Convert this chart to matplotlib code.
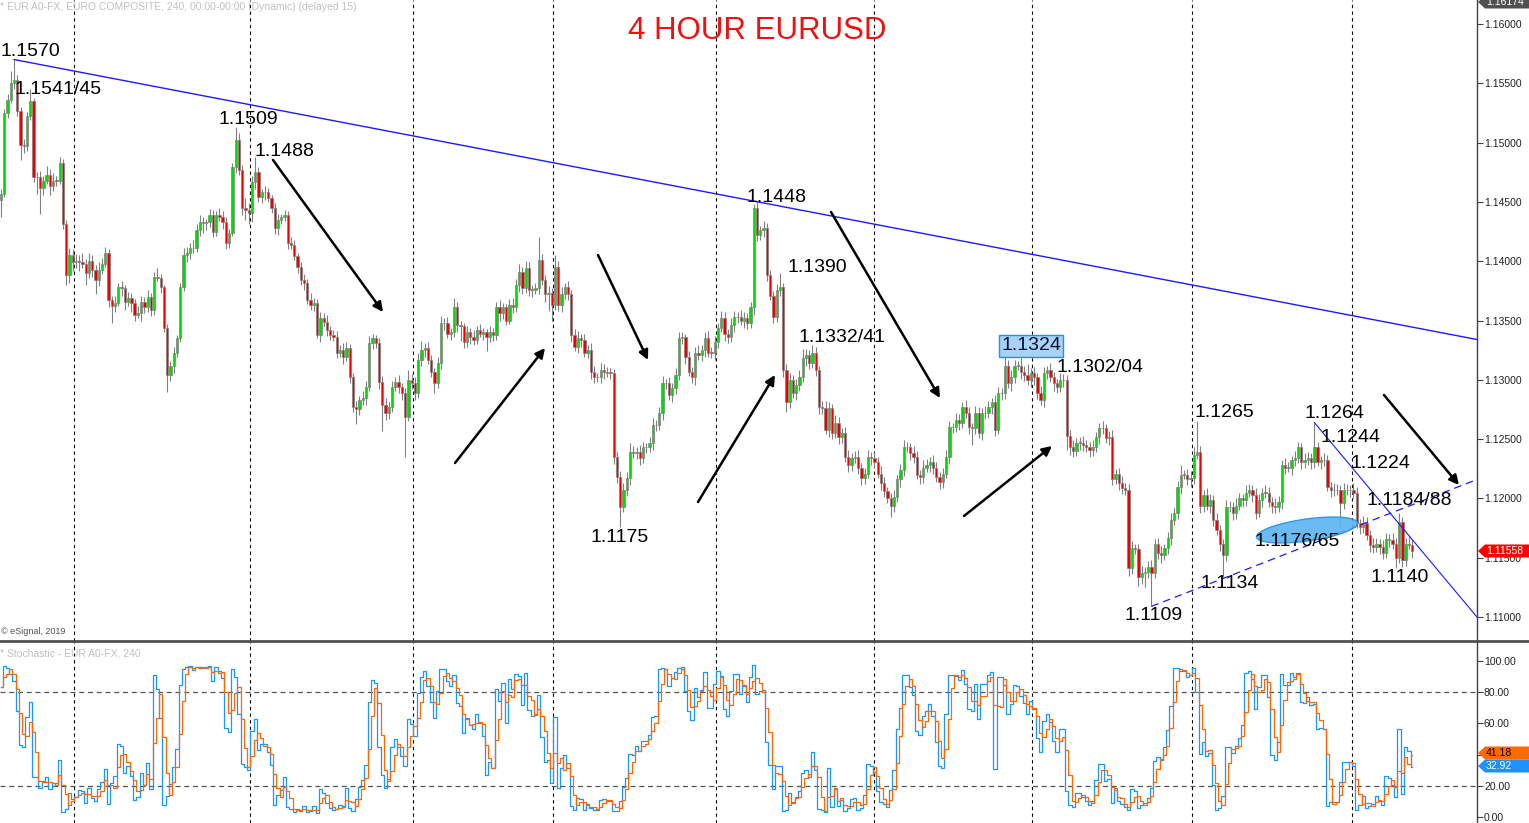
import numpy as np
import pandas as pd
import matplotlib
matplotlib.use("Agg")
import matplotlib.pyplot as plt
from matplotlib.patches import Ellipse, Polygon
from matplotlib.lines import Line2D
from matplotlib.transforms import IdentityTransform

plt.rcParams['font.family'] = ['Liberation Sans', 'DejaVu Sans']

W, H = 1529, 823

# closes in pips above 1.1000, one list per week
wk1 = [457, 525, 536, 550, 553, 527, 498, 497, 522, 535, 471, 471, 462, 468, 473, 463, 468, 468, 483, 431, 388, 405, 399]
wk2 = [400, 399, 398, 390, 400, 393, 384, 393, 398, 407, 367, 362, 365, 378, 377, 366, 369, 365, 355, 356,
       366, 361, 370, 359, 387, 386, 378, 344, 304, 312, 323, 335, 378, 405, 407, 411, 411, 426, 433, 432,
       433, 439, 425, 439, 437, 433, 415, 424, 479, 502, 477, 445, 443, 441]
wk3 = [467, 475, 454, 458, 458, 453, 445, 428, 435, 437, 439, 415, 414, 404, 395, 384, 382, 367, 363, 365,
       338, 352, 349, 342, 338, 336, 323, 325, 319, 327, 302, 277, 275, 283, 285, 294, 331, 335, 331, 298,
       279, 272, 277, 294, 298, 294, 289, 269, 300, 297]
wk4 = [289, 317, 325, 327, 317, 307, 297, 314, 348, 348, 339, 340, 361, 346, 345, 332, 340, 336, 334, 342,
       339, 340, 336, 340, 338, 361, 356, 361, 350, 363, 361, 380, 391, 377, 394, 376, 376, 377, 401, 384,
       372, 373]
wk5 = [363, 395, 363, 372, 378, 372, 338, 328, 335, 334, 323, 325, 307, 302, 302, 308, 307, 306, 306, 235,
       218, 193, 207, 217, 239, 238, 239, 234, 243, 243, 247, 262, 262, 272, 297, 297, 287, 293, 304, 335,
       336, 319, 307, 302, 323, 321, 325, 335, 323, 323]
wk6 = [332, 344, 352, 339, 336, 346, 353, 353, 350, 352, 348, 361, 445, 422, 426, 428, 388, 371, 353, 376,
       378, 308, 281, 300, 289, 296, 302, 318, 321, 314, 323, 308, 277, 276, 258, 276, 255, 264, 252, 255,
       235, 228, 234, 235, 226, 217, 221, 235, 234]
wk7 = [231, 221, 213, 206, 200, 194, 201, 216, 224, 243, 243, 238, 235, 220, 218, 226, 228, 231, 226, 218,
       214, 221, 235, 260, 260, 266, 264, 277, 272, 260, 259, 272, 255, 272, 272, 277, 281, 258, 289, 289,
       312, 297, 302, 312, 312, 307, 304, 300, 306]
wk8 = [302, 289, 283, 306, 308, 302, 297, 294, 300, 300, 253, 243, 240, 247, 247, 245, 243, 241, 243, 252,
       259, 259, 251, 252, 216, 221, 213, 209, 207, 141, 158, 157, 134, 137, 138, 142, 137, 162, 154, 152,
       158, 167, 182, 188, 210, 220, 220, 216, 217]
wk9 = [237, 239, 194, 203, 194, 199, 182, 173, 162, 152, 193, 193, 188, 194, 200, 199, 205, 207, 203, 188,
       199, 205, 205, 197, 194, 193, 197, 228, 226, 226, 232, 234, 243, 231, 232, 234, 231, 243, 231, 232,
       232, 210, 207, 207, 207, 196, 207, 207, 207, 205, 179, 176, 179, 169, 161, 159, 162, 159, 154, 166,
       165, 162, 150, 180, 148, 162, 161, 156]
first_open = 452

# upper wick lengths (pips)
up1 = [4, 3, 5, 10, 17, 4, 3, 5, 4, 10, 3, 4, 5, 4, 7, 5, 6, 4, 5, 3, 4, 6, 5]
up2 = [6, 5, 8, 4, 7, 5, 4, 6, 5, 5, 3, 4, 6, 4, 5, 3, 5, 4, 3, 6, 5, 4, 6, 3, 4, 7, 3, 2, 3, 4,
       5, 3, 4, 6, 5, 4, 7, 5, 6, 4, 3, 5, 4, 3, 6, 5, 4, 3, 4, 11, 6, 4, 8, 6]
up3 = [5, 13, 4, 3, 5, 4, 3, 4, 5, 3, 4, 3, 5, 4, 3, 4, 5, 3, 6, 4, 3, 5, 4, 6, 3, 4, 5, 4, 6, 5,
       3, 4, 5, 3, 6, 5, 6, 4, 3, 4, 5, 6, 4, 5, 4, 6, 3, 4, 8, 5]
up4 = [5, 6, 8, 4, 5, 4, 3, 5, 6, 4, 5, 4, 8, 5, 4, 3, 5, 4, 6, 3, 5, 4, 3, 5, 4, 5, 6, 4, 3, 5,
       6, 5, 7, 4, 6, 5, 4, 5, 19, 5, 4, 6]
up5 = [4, 10, 5, 6, 4, 5, 4, 5, 6, 4, 5, 4, 6, 5, 4, 6, 5, 4, 4, 3, 4, 5, 6, 5, 8, 5, 4, 6, 5, 4,
       5, 6, 4, 5, 6, 4, 5, 4, 6, 5, 4, 3, 5, 4, 5, 6, 4, 5, 6, 5]
up6 = [5, 4, 6, 5, 4, 6, 5, 4, 6, 5, 4, 5, 3, 5, 4, 6, 4, 5, 4, 5, 12, 4, 5, 6, 4, 5, 6, 8, 5, 4,
       6, 5, 4, 5, 6, 5, 4, 6, 5, 4, 5, 6, 4, 5, 6, 4, 5, 6, 4]
up7 = [5, 4, 6, 5, 4, 5, 6, 4, 5, 6, 5, 4, 6, 5, 4, 6, 5, 4, 6, 5, 4, 5, 6, 5, 4, 6, 5, 4, 6, 5,
       4, 6, 5, 4, 6, 5, 4, 6, 5, 4, 12, 5, 6, 5, 4, 6, 5, 9, 4]
up8 = [5, 4, 6, 5, 4, 6, 5, 4, 6, 5, 4, 5, 6, 4, 5, 6, 4, 5, 6, 4, 5, 6, 4, 5, 6, 4, 5, 6, 4, 5,
       6, 4, 5, 6, 4, 5, 6, 4, 5, 6, 4, 5, 6, 4, 5, 8, 4, 5, 6]
up9 = [6, 26, 5, 4, 6, 5, 4, 6, 5, 4, 6, 5, 4, 6, 5, 4, 6, 5, 4, 6, 5, 4, 6, 5, 4, 6, 5, 4, 6, 5,
       4, 6, 5, 4, 6, 5, 4, 21, 5, 4, 6, 5, 4, 6, 5, 4, 6, 5, 4, 6, 5, 4, 6, 5, 4, 6, 5, 4, 6, 5,
       4, 6, 5, 8, 4, 5, 6, 4]

# lower wick lengths (pips)
dn1 = [15, 3, 4, 3, 5, 5, 13, 6, 4, 3, 4, 14, 22, 6, 3, 7, 4, 5, 3, 4, 8, 6, 7]
dn2 = [5, 7, 4, 10, 4, 6, 12, 5, 4, 3, 6, 14, 5, 3, 6, 7, 4, 8, 5, 3, 6, 5, 4, 5, 4, 3, 5, 4, 14, 5,
       6, 4, 3, 3, 6, 5, 4, 3, 5, 8, 6, 4, 5, 4, 3, 6, 5, 4, 3, 5, 4, 6, 8, 10]
dn3 = [8, 6, 4, 5, 6, 3, 4, 5, 6, 4, 3, 5, 4, 3, 5, 4, 6, 3, 4, 5, 3, 6, 4, 5, 4, 3, 5, 4, 6, 3,
       5, 4, 12, 5, 4, 6, 3, 5, 4, 6, 22, 6, 5, 4, 3, 5, 6, 34, 4, 5]
dn4 = [6, 4, 5, 6, 4, 5, 8, 4, 5, 6, 4, 5, 4, 6, 12, 5, 4, 6, 5, 4, 3, 5, 12, 4, 5, 4, 6, 5, 4, 3,
       5, 4, 6, 5, 4, 5, 6, 4, 5, 4, 6, 14]
dn5 = [13, 4, 5, 6, 4, 5, 6, 4, 5, 6, 4, 5, 6, 5, 4, 5, 6, 4, 5, 6, 5, 17, 4, 5, 6, 4, 5, 6, 4, 5,
       4, 6, 5, 4, 6, 5, 4, 6, 5, 4, 5, 6, 4, 5, 6, 4, 5, 6, 4, 5]
dn6 = [6, 5, 4, 6, 5, 4, 6, 5, 4, 6, 5, 4, 6, 5, 4, 6, 5, 4, 5, 4, 5, 6, 8, 5, 4, 6, 5, 4, 6, 5,
       4, 5, 6, 5, 4, 6, 5, 4, 6, 5, 4, 6, 5, 4, 5, 6, 5, 4, 6]
dn7 = [5, 4, 6, 5, 4, 10, 5, 4, 6, 5, 4, 6, 5, 4, 6, 5, 4, 6, 5, 4, 6, 5, 4, 6, 5, 4, 6, 5, 4, 6,
       14, 5, 4, 6, 5, 4, 6, 5, 4, 6, 5, 4, 6, 5, 4, 6, 5, 4, 6]
dn8 = [6, 5, 4, 6, 5, 4, 6, 5, 4, 6, 12, 6, 5, 4, 6, 5, 4, 6, 5, 4, 6, 5, 4, 6, 5, 4, 6, 5, 4, 6,
       5, 4, 8, 6, 12, 5, 28, 4, 5, 6, 4, 5, 6, 4, 5, 6, 4, 5, 6]
dn9 = [5, 4, 6, 5, 4, 6, 5, 4, 6, 18, 5, 4, 6, 5, 4, 6, 5, 4, 6, 5, 4, 6, 5, 4, 6, 5, 4, 6, 5, 4,
       6, 5, 4, 6, 5, 4, 6, 5, 4, 6, 5, 4, 6, 5, 4, 20, 5, 4, 6, 5, 4, 6, 5, 4, 6, 5, 4, 6, 5, 4,
       6, 5, 9, 4, 6, 5, 4, 6]

# week separators (candle index) and price levels on the right axis
week_lines = [22.5, 76.5, 126.5, 169.5, 219.5, 268, 316.5, 365.5, 414.5]
price_ticks = [1.11, 1.115, 1.12, 1.125, 1.13, 1.135, 1.14, 1.145, 1.15, 1.155, 1.16]
stoch_ticks = [0, 20, 40, 60, 80, 100]

# trend lines: (index, price) pairs
trend_main = [(4, 1.1570), (452.9, 1.1334)]
trend_fall = [(403, 1.1264), (452.9, 1.1100)]
trend_rise = [(353, 1.1109), (452.9, 1.1216)]

# labels on the chart: text, left x px, centre y px
labels = [("1.1570", 0, 51), ("1.1541/45", 15, 89), ("1.1509", 218, 119), ("1.1488", 255, 152),
          ("1.1448", 746, 197), ("1.1390", 788, 267), ("1.1332/41", 799, 338), ("1.1302/04", 1057, 367),
          ("1.1175", 590, 537), ("1.1265", 1195, 412), ("1.1264", 1304, 413), ("1.1244", 1320, 438),
          ("1.1224", 1351, 463), ("1.1184/88", 1367, 500), ("1.1176/65", 1255, 541), ("1.1134", 1200, 584),
          ("1.1140", 1371, 578), ("1.1109", 1125, 616)]
arrows = [(273, 160, 383, 312), (455, 463, 545, 348), (598, 255, 648, 360), (698, 502, 775, 375),
          (831, 212, 940, 398), (964, 516, 1052, 446), (1384, 395, 1459, 485)]

# build candles
closes = np.array(wk1 + wk2 + wk3 + wk4 + wk5 + wk6 + wk7 + wk8 + wk9, dtype=float)
ups = np.array(up1 + up2 + up3 + up4 + up5 + up6 + up7 + up8 + up9, dtype=float)
dns = np.array(dn1 + dn2 + dn3 + dn4 + dn5 + dn6 + dn7 + dn8 + dn9, dtype=float)
n = min(len(closes), len(ups), len(dns))
closes, ups, dns = closes[:n], ups[:n], dns[:n]
opens = np.concatenate([[first_open], closes[:-1]])
highs = np.maximum(opens, closes) + ups
lows = np.minimum(opens, closes) - dns
c = 1.1 + closes / 10000
o = 1.1 + opens / 10000
hi = 1.1 + highs / 10000
lo = 1.1 + lows / 10000
idx = np.arange(n)

# stochastic 14,1,3
hh = pd.Series(hi).rolling(14, min_periods=1).max().values
ll = pd.Series(lo).rolling(14, min_periods=1).min().values
k = 100 * (c - ll) / (hh - ll)
d = pd.Series(k).rolling(3, min_periods=1).mean().values

fig = plt.figure(figsize=(W / 100, H / 100), dpi=100)
fig.patch.set_facecolor('white')
sep = 641
ax = fig.add_axes([0, (H - sep) / H, 1477 / W, sep / H])
ax2 = fig.add_axes([0, 0, 1477 / W, (H - sep) / H])

# candles
ax.vlines(idx, lo, hi, color='#808080', lw=0.8, zorder=2)
body = np.abs(c - o)
body[body < 0.00002] = 0.00002
cols = np.where(c > o, '#00dd00', '#ee0000')
ax.bar(idx, body, bottom=np.minimum(o, c), width=0.7, color=cols,
       edgecolor='#808080', linewidth=0.5, zorder=3)

for (i0, p0), (i1, p1) in [trend_main]:
    ax.plot([i0, i1], [p0, p1], color='#1a1aff', lw=1.0, zorder=4)
for (i0, p0), (i1, p1) in [trend_fall]:
    ax.plot([i0, i1], [p0, p1], color='#1a1aff', lw=0.8, zorder=4)
for (i0, p0), (i1, p1) in [trend_rise]:
    ax.plot([i0, i1], [p0, p1], color='#1a1aff', lw=0.9, ls=(0, (6, 4)), zorder=4)

xlim = (-0.31, 452.9)
ax.set_xlim(xlim)
ax.set_ylim(1.16202 - sep * 0.0000843, 1.16202)
ax2.set_xlim(xlim)
ax2.set_ylim(-3.85, 112.8)

for w in week_lines:
    ax.axvline(w, color='black', lw=0.8, ls=(0, (3, 3)), zorder=1)
    ax2.axvline(w, color='black', lw=0.8, ls=(0, (3, 3)), zorder=1)
for lev in [20, 80]:
    ax2.axhline(lev, color='#555555', lw=0.9, ls=(0, (4, 3)), zorder=1)

ax2.step(idx, k, where='mid', color='#1a96ff', lw=0.9, zorder=3)
ax2.step(idx, d, where='mid', color='#ff6600', lw=0.9, zorder=4)

# axes styling
for a in [ax, ax2]:
    for s in ['top', 'left', 'bottom']:
        a.spines[s].set_visible(False)
    a.spines['right'].set_color('#404040')
    a.spines['right'].set_linewidth(1.0)
    a.set_xticks([])
    a.yaxis.tick_right()
    a.tick_params(axis='y', direction='out', length=4, width=0.8, colors='#404040',
                  labelsize=7.5, labelcolor='#202020', pad=1)
ax.set_yticks(price_ticks)
ax.set_yticklabels(['%.5f' % v for v in price_ticks])
ax2.set_yticks(stoch_ticks)
ax2.set_yticklabels(['%.2f' % v for v in stoch_ticks])


def fx(x):
    return x / W


def fy(y):
    return 1 - y / H


# panel separator across the whole width
fig.add_artist(Line2D([0, 1], [fy(sep), fy(sep)], transform=fig.transFigure,
                      color='#505050', lw=2, zorder=5))

# header texts
fig.text(fx(0), fy(7), "* EUR A0-FX, EURO COMPOSITE, 240, 00:00-00:00 (Dynamic) (delayed 15)",
         color='#c0c0c0', fontsize=7.5, va='center', ha='left')
fig.text(fx(1), fy(631), "\u00a9 eSignal, 2019", color='#505050', fontsize=6.5, va='center', ha='left')
fig.text(fx(0), fy(654), "* Stochastic - EUR A0-FX, 240", color='#c0c0c0', fontsize=7.5,
         va='center', ha='left')
fig.text(fx(757), fy(31), "4 HOUR EURUSD", color='#ee1111', fontsize=22.5, ha='center', va='center')

# ellipse around 1.1176/65
ell = Ellipse((1307, H - 530), 102, 22, angle=8, transform=IdentityTransform(),
              facecolor='#5ab4f0', edgecolor='#2a90e0', lw=1, alpha=0.9, zorder=2)
fig.add_artist(ell)

for txt, x, y in labels:
    fig.text(fx(x), fy(y), txt, fontsize=14, color='black', ha='left', va='center', zorder=6)
fig.text(fx(1031), fy(346), "1.1324", fontsize=14, color='#101030', ha='center', va='center', zorder=6,
         bbox=dict(boxstyle='square,pad=0.12', fc='#a6d3f7', ec='#1e90ff', lw=1))

for x0, y0, x1, y1 in arrows:
    ax.annotate('', xy=(x1, H - y1), xytext=(x0, H - y0), xycoords='figure pixels',
                textcoords='figure pixels', annotation_clip=False,
                arrowprops=dict(arrowstyle='-|>', color='black', lw=1.8, mutation_scale=14,
                                shrinkA=0, shrinkB=0), zorder=6)


# value boxes on the right axis
def tag(y, txt, fc, tc, h=13):
    pts = [(1478, y), (1485, y - h / 2), (W, y - h / 2), (W, y + h / 2), (1485, y + h / 2)]
    pts = [(fx(px), fy(py)) for px, py in pts]
    fig.add_artist(Polygon(pts, closed=True, transform=fig.transFigure, fc=fc, ec='none', zorder=7))
    fig.text(fx(1486), fy(y), txt, color=tc, fontsize=7.5, ha='left', va='center', zorder=8)


tag(2, "1.16174", '#505050', 'white')
tag(551, "1.11558", '#ff0000', 'white')
tag(753, "41.18", '#ff6a00', 'black')
tag(766, "32.92", '#1e90ff', 'white')

fig.savefig("out.png", dpi=100, facecolor='white')
